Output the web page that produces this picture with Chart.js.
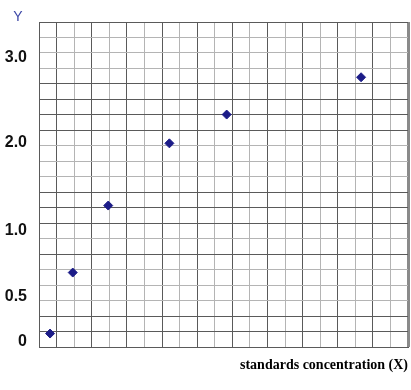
<!DOCTYPE html>
<html>
<head>
<meta charset="utf-8">
<script src="https://cdn.jsdelivr.net/npm/chart.js@4"></script>
<style>
  body { margin: 0; background: #fff; }
  #wrap { width: 411px; height: 390px; }
</style>
</head>
<body>
<div id="wrap"><canvas id="myChart"></canvas></div>
<script>
// the paper is a 21 x 21 grid; values are read in grid squares
const gridSquares = 21;
const pointsX = [0.63, 1.92, 3.94, 7.42, 10.68, 18.33];
const pointsY = [0.87, 4.81, 9.14, 13.16, 15.02, 17.43];

// Y labels as printed beside the grid, and where they sit (grid squares)
const tickLabels = ['0', '0.5', '1.0', '2.0', '3.0'];
const tickPositions = [0.32, 3.23, 7.49, 13.24, 18.67];

// heavier ruled lines on the paper
const darkRowsY = [0, 1, 2, 6, 8, 9, 10, 14, 15, 16, 17, 21];

const DARK = '#5a5a5a';
const LIGHT = '#b4b4b4';

const yLetter = {
    id: 'yLetter',
    afterDraw(chart) {
        const ctx = chart.ctx;
        ctx.save();
        ctx.font = '14px "Liberation Sans"';
        ctx.fillStyle = '#3b46a6';
        ctx.textAlign = 'center';
        ctx.textBaseline = 'middle';
        ctx.fillText('Y', 18, 17);
        ctx.restore();
    }
};

const data = {
    datasets: [{
        data: pointsX.map((x, i) => ({ x: x, y: pointsY[i] })),
        pointStyle: 'rectRot',
        pointRadius: 4.5,
        pointBorderWidth: 1,
        backgroundColor: '#1c1c88',
        borderColor: '#1c1c88',
        showLine: false
    }]
};

const config = {
    type: 'scatter',
    data: data,
    plugins: [yLetter],
    options: {
        responsive: true,
        maintainAspectRatio: false,
        animation: false,
        layout: {
            autoPadding: false,
            padding: { top: 22, right: 3, bottom: 0, left: 0 }
        },
        plugins: {
            legend: { display: false },
            tooltip: { enabled: false }
        },
        scales: {
            x: {
                type: 'linear',
                min: 0,
                max: gridSquares,
                afterFit: (scale) => { scale.height = 43; },
                ticks: { display: false, stepSize: 1 },
                grid: {
                    drawTicks: false,
                    color: (ctx) => {
                        const v = ctx.tick.value;
                        if (v === gridSquares) return '#8a8a8a';
                        return (v % 2 === 1 || v === 0) ? DARK : LIGHT;
                    },
                    lineWidth: (ctx) => ctx.tick.value === gridSquares ? 3 : 1
                },
                border: { color: DARK },
                title: {
                    display: true,
                    text: 'standards concentration (X)',
                    align: 'end',
                    color: '#000',
                    font: { family: '"Liberation Serif"', size: 14, weight: 'bold' },
                    padding: { top: 0, bottom: 16 }
                }
            },
            y: {
                type: 'linear',
                min: 0,
                max: gridSquares,
                afterFit: (scale) => { scale.width = 39; },
                afterBuildTicks: (scale) => {
                    const ticks = [];
                    for (let i = 0; i <= gridSquares; i++) ticks.push({ value: i });
                    tickPositions.forEach((p) => ticks.push({ value: p }));
                    scale.ticks = ticks;
                },
                ticks: {
                    autoSkip: false,
                    padding: 12,
                    color: '#111',
                    font: { family: '"Liberation Sans"', size: 16, weight: 'bold' },
                    callback: (value) => {
                        const k = tickPositions.indexOf(value);
                        return k >= 0 ? tickLabels[k] : '';
                    }
                },
                grid: {
                    drawTicks: false,
                    color: (ctx) => {
                        const v = ctx.tick.value;
                        if (!Number.isInteger(v)) return 'rgba(0,0,0,0)';
                        return darkRowsY.includes(v) ? DARK : LIGHT;
                    }
                },
                border: { color: DARK }
            }
        }
    }
};

const myChart = new Chart(document.getElementById('myChart'), config);
</script>
</body>
</html>
